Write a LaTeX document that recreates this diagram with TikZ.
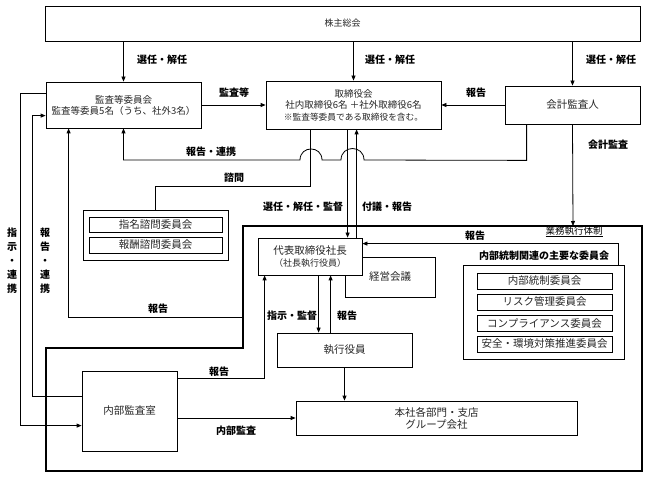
\documentclass[tikz,border=0pt]{standalone}
\usepackage{fontspec}
\newfontfamily\jp{Noto Sans CJK JP}
\usetikzlibrary{arrows.meta}
\tikzset{
  box/.style={draw, line width=0.8pt, fill=white, inner sep=1pt, align=center,
    font=\jp\fontsize{10.5}{12}\selectfont, text=black!85},
  lbl/.style={font=\jp\bfseries\fontsize{10}{12}\selectfont, inner sep=1pt},
  arr/.style={-{Triangle[length=5pt,width=4pt]}, line width=0.8pt},
  ln/.style={line width=0.8pt},
  vlbl/.style={font=\jp\bfseries\fontsize{10}{14}\selectfont, inner sep=0pt, align=center}
}
\begin{document}
\begin{tikzpicture}[x=1pt,y=-1pt]
\useasboundingbox (0,0) rectangle (648,478);

% nodes
\node[box, minimum width=595pt, minimum height=35pt, font=\jp\fontsize{9}{11}\selectfont] (agm) at (342.5,23.5) {株主総会};
\node[box, minimum width=155pt, minimum height=46pt, font=\jp\fontsize{9.5}{11}\selectfont] (audc) at (123.5,105) {監査等委員会\\監査等委員5名（うち、社外3名）};
\node[box, minimum width=175pt, minimum height=48pt, font=\jp\fontsize{9.5}{11.5}\selectfont] (board) at (353.5,105) {取締役会\\社内取締役6名 ＋社外取締役6名\\{\fontsize{8.7}{11.5}\selectfont ※監査等委員である取締役を含む。}};
\node[box, minimum width=135pt, minimum height=38pt] (auditor) at (572.5,105) {会計監査人};

\node[box, minimum width=145pt, minimum height=50pt] (advgrp) at (155.5,235) {};
\node[box, minimum width=133pt, minimum height=15pt] (nom) at (155.5,224.5) {指名諮問委員会};
\node[box, minimum width=133pt, minimum height=16pt] (rem) at (155.5,245) {報酬諮問委員会};

% big execution box
\draw[line width=2pt] (243,226) -- (642,226) -- (642,471) -- (46,471) -- (46,348) -- (243,348) -- cycle;
\coordinate (bt) at (573,226);
\coordinate (bl) at (243,317);

\node[box, minimum width=90pt, minimum height=40pt] (mgmt) at (390,277) {\hspace*{0pt}経営会議};
\node[box, minimum width=104pt, minimum height=37pt] (ceo) at (310,256.5) {代表取締役社長\\{\fontsize{9}{12}\selectfont （社長執行役員）}};
\node[box, minimum width=135pt, minimum height=34pt] (exec) at (344.5,350) {執行役員};
\node[box, minimum width=281pt, minimum height=34pt] (hq) at (436.5,418) {本社各部門・支店\\グループ会社};
\node[box, minimum width=95pt, minimum height=80pt] (ia) at (129.5,411) {内部監査室};

\node[box, minimum width=161pt, minimum height=94pt] (icgrp) at (543.5,312) {};
\node[box, minimum width=135pt, minimum height=16pt] (ic1) at (544.5,281) {内部統制委員会};
\node[box, minimum width=135pt, minimum height=16pt] (ic2) at (544.5,302) {リスク管理委員会};
\node[box, minimum width=135pt, minimum height=16pt] (ic3) at (544.5,323.5) {コンプライアンス委員会};
\node[box, minimum width=135pt, minimum height=16pt] (ic4) at (544.5,344) {安全・環境対策推進委員会};

% connectors top
\draw[arr] (agm.south -| audc.north) -- (audc.north);
\draw[arr] (agm.south -| board.north) -- (board.north);
\draw[arr] (agm.south -| auditor.north) -- (auditor.north);
\draw[arr] (audc.east) -- (board.west);
\draw[arr] (auditor.west) -- (board.east);
\draw[arr] (auditor.south) -- (bt);

% report/liaison with jumps
\draw[arr] ([xshift=22pt]auditor.south west) -- ++(0,36) -- (364,160)
  .. controls (364,144.7) and (341,144.7) .. (341,160) -- (322,160)
  .. controls (322,145.3) and (300,145.3) .. (300,160) -| (audc.south);

% consultation
\draw[ln] ([xshift=45pt]board.south west) -- ++(0,57) -| (advgrp.north);

% board <-> ceo
\draw[arr] ([xshift=82pt]board.south west) -- ([xshift=90pt]ceo.north west);
\draw[arr] ([xshift=99pt]ceo.north west) -- ([xshift=91pt]board.south west);

% ceo <-> exec
\draw[arr] ([xshift=61pt]ceo.south west) -- ([xshift=42pt]exec.north west);
\draw[arr] ([xshift=54pt]exec.north west) -- ([xshift=73pt]ceo.south west);
\draw[arr] (exec.south) -- (exec.south |- hq.north);

% internal audit
\draw[arr] ([yshift=-7pt]ia.east) -- (hq.west);
\draw[arr] ([yshift=-8pt]ia.north east) -| ([xshift=7pt]ceo.south west);

% committees report
\draw[arr] ([xshift=-6pt]icgrp.north east) |- ([yshift=-6pt]ceo.north east);

% exec system report to audit committee
\draw[arr] (bl) -| ([xshift=23pt]audc.south west);

% left loops
\draw[arr] ([yshift=-12pt]audc.north west) -- ++(-25,0) |- ([yshift=-55pt]ia.north west);
\draw[arr] ([yshift=-26pt]ia.north west) -- ++(-49,0) |- ([yshift=-34pt]audc.north west);

% labels
\node[lbl] (l1) at (162,60) {選任・解任};
\node[lbl] (l2) at (390,60) {選任・解任};
\node[lbl] (l3) at (611,60) {選任・解任};
\node[lbl] (l4) at (234,93) {監査等};
\node[lbl] (l5) at (476,93) {報告};
\node[lbl] (l6) at (211,152) {報告・連携};
\node[lbl] (l7) at (608,145) {会計監査};
\node[lbl] (l8) at (234,178) {諮問};
\node[lbl] (l9) at (303,207) {選任・解任・監督};
\node[lbl] (l10) at (387,207) {付議・報告};
\node[inner sep=1pt, font=\jp\fontsize{9.5}{11}\selectfont] (l11) at (574,231.5) {\underline{業務執行体制}};
\node[lbl] (l12) at (475,236) {報告};
\node[lbl] (l13) at (544,256) {内部統制関連の主要な委員会};
\node[lbl] (l14) at (158,309) {報告};
\node[lbl] (l15) at (292,316) {指示・監督};
\node[lbl] (l16) at (347,316) {報告};
\node[lbl] (l17) at (219,372) {報告};
\node[lbl] (l18) at (236,431) {内部監査};
\node[vlbl] (l19) at (12,261) {指\\示\\・\\連\\携};
\node[vlbl] (l20) at (45,261) {報\\告\\・\\連\\携};
\end{tikzpicture}
\end{document}
